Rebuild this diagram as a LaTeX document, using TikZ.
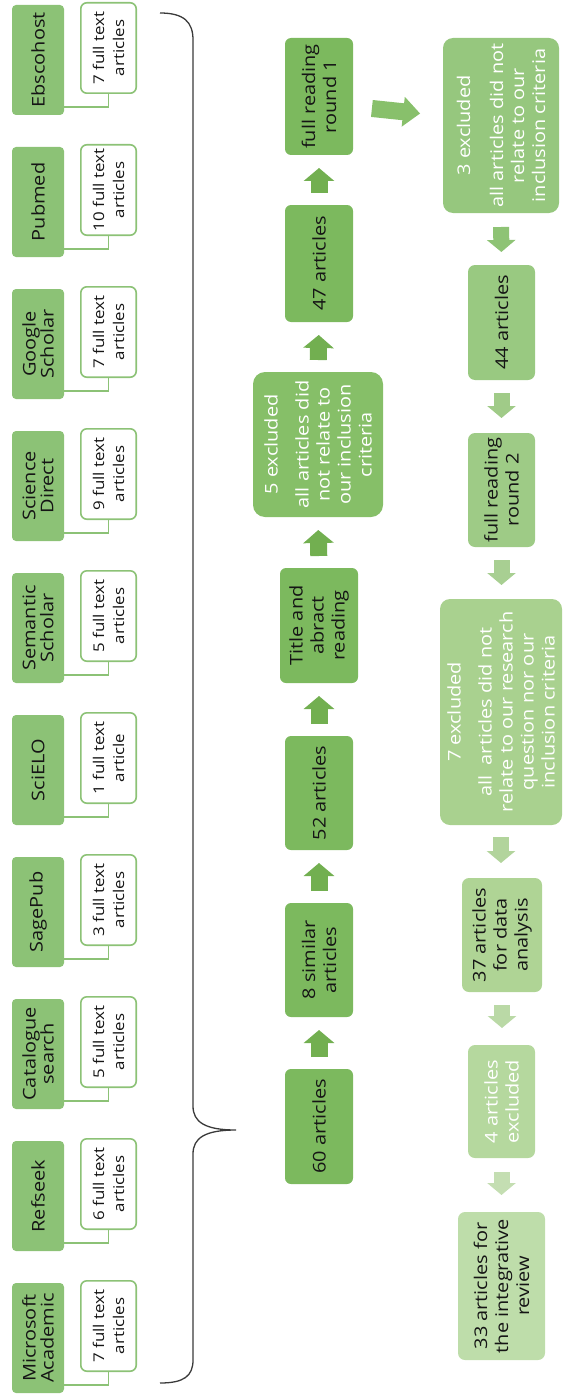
\documentclass[tikz,border=0pt]{standalone}
\usepackage{fontspec}
\setmainfont[FakeStretch=1.14]{Open Sans}
\usetikzlibrary{arrows.meta}
\definecolor{srcg}{HTML}{8CC276}
\definecolor{mg}{HTML}{7CB95E}
\definecolor{mgb}{HTML}{86BF68}
\definecolor{marr}{HTML}{72AF50}
\definecolor{rgA}{HTML}{96C77E}
\definecolor{rgB}{HTML}{99C981}
\definecolor{rgC}{HTML}{9ECB86}
\definecolor{rgD}{HTML}{A9D18F}
\definecolor{rgE}{HTML}{AFD495}
\definecolor{rgF}{HTML}{B5D89E}
\definecolor{rgG}{HTML}{BEDDAA}
\definecolor{raA}{HTML}{88C06B}
\definecolor{raB}{HTML}{8EC375}
\definecolor{raC}{HTML}{A0CB88}
\definecolor{raD}{HTML}{A8CF92}
\definecolor{raE}{HTML}{B2D49C}
\definecolor{raF}{HTML}{BAD9A6}
\definecolor{raG}{HTML}{C4DEB2}
\definecolor{txt}{HTML}{151515}
\definecolor{bracec}{HTML}{3A3A3A}
\newcommand\fsrc{\fontsize{17.5}{18}\selectfont}
\newcommand\fwt{\fontsize{14.8}{20}\selectfont}
\newcommand\fmid{\fontsize{17.5}{21}\selectfont}
\begin{document}
\begin{tikzpicture}[x=1pt,y=-1pt,
  base/.style={rotate=90, align=center, inner sep=1pt, outer sep=0pt},
  src/.style={base, fill=srcg, rounded corners=4pt, minimum width=110pt, minimum height=52pt, text=txt, font=\fsrc},
  wt/.style={base, draw=srcg, line width=1.6pt, fill=white, rounded corners=6pt, minimum width=90.4pt, minimum height=55.4pt, text=txt, font=\fwt},
  mbox/.style={base, rounded corners=6pt, minimum height=68pt, text=txt, font=\fmid},
  rbox/.style={base, rounded corners=7pt, minimum height=67pt, text=txt, font=\fmid},
  conn/.style={draw=srcg, line width=1.6pt},
  uparr/.style={draw=marr, line width=17pt, -{Triangle[width=30pt 0 0,length=13pt 0 0]}, shorten <=12pt, shorten >=13pt},
  downarr/.style={line width=16pt, -{Triangle[width=28pt 0 0,length=12pt 0 0]}},
  bigarr/.style={draw=raA, line width=17pt, -{Triangle[width=29pt 0 0,length=17pt 0 0]}}
]
\useasboundingbox (0,0) rectangle (562,1399);

% sources
\node[src] (s1) at (38,60) {Ebscohost};
\node[wt] (w1) at (108.5,48) {7 full text\\articles};
\node[src] (s2) at (38,202) {Pubmed};
\node[wt] (w2) at (108.5,190) {10 full text\\articles};
\node[src] (s3) at (38,344) {Google\\Scholar};
\node[wt] (w3) at (108.5,332) {7 full text\\articles};
\node[src] (s4) at (38,486) {Science\\Direct};
\node[wt] (w4) at (108.5,474) {9 full text\\articles};
\node[src] (s5) at (38,628) {Semantic\\Scholar};
\node[wt] (w5) at (108.5,616) {5 full text\\articles};
\node[src] (s6) at (38,770) {SciELO};
\node[wt] (w6) at (108.5,758) {1 full text\\article};
\node[src] (s7) at (38,912) {SagePub};
\node[wt] (w7) at (108.5,900) {3 full text\\articles};
\node[src] (s8) at (38,1054) {Catalogue\\search};
\node[wt] (w8) at (108.5,1042) {5 full text\\articles};
\node[src] (s9) at (38,1196) {Refseek};
\node[wt] (w9) at (108.5,1184) {6 full text\\articles};
\node[src] (s10) at (38,1338) {Microsoft\\Academic};
\node[wt] (w10) at (108.5,1326) {7 full text\\articles};
\foreach \i in {1,...,10} {
  \draw[conn] ([yshift=8pt]s\i.south west) -| (w\i.west);
}

% brace
\draw[bracec, line width=1.3pt]
  (160,13) .. controls (184,13) and (193,22) .. (193,40)
  -- (193,1106) .. controls (193,1122) and (205,1130) .. (236,1130)
  .. controls (205,1130) and (193,1138) .. (193,1154)
  -- (193,1360) .. controls (193,1376) and (184,1383) .. (160,1383);

% middle column
\node[mbox, fill=mg, minimum width=117pt] (frr1) at (319,96.5) {full reading\\round 1};
\node[mbox, fill=mg, minimum width=117pt] (a47) at (319,263.5) {47 articles};
\node[mbox, fill=mgb, minimum width=145pt, minimum height=130pt, rounded corners=12pt, text=white] (ex5) at (318,444.5) {5 excluded\\[10pt]all articles did\\not relate to\\our inclusion\\criteria};
\node[mbox, fill=mg, minimum width=115pt, minimum height=78pt] (title) at (319,625.5) {Title and\\abract\\reading};
\node[mbox, fill=mg, minimum width=114pt] (a52) at (319,793) {52 articles};
\node[mbox, fill=mg, minimum width=114pt] (sim8) at (319,960) {8 similar\\articles};
\node[mbox, fill=mg, minimum width=115pt] (a60) at (319,1126.5) {60 articles};

\draw[uparr] (a60.east) -- (sim8.west);
\draw[uparr] (sim8.east) -- (a52.west);
\draw[uparr] (a52.east) -- (title.west);
\draw[uparr] (title.east) -- (ex5.west);
\draw[uparr] (ex5.east) -- (a47.west);
\draw[uparr] (a47.east) -- (frr1.west);

% right column
\node[rbox, fill=rgA, minimum width=175pt, minimum height=116pt, rounded corners=10pt, text=white] (ex3) at (501,125.5) {3 excluded\\[12pt]all articles did not\\relate to our\\inclusion criteria};
\node[rbox, fill=rgB, minimum width=115pt] (a44) at (501.5,322.5) {44 articles};
\node[rbox, fill=rgC, minimum width=114pt] (frr2) at (501.5,490) {full reading\\round 2};
\node[rbox, fill=rgD, minimum width=226pt, minimum height=122pt, rounded corners=10pt, text=white] (ex7) at (501,712) {7 excluded\\[10pt]all~ articles did not\\relate to our research\\question nor our\\inclusion criteria};
\node[rbox, fill=rgE, minimum width=114pt, minimum height=80pt] (a37) at (502,935) {37 articles\\for data\\analysis};
\node[rbox, fill=rgF, minimum width=113pt, text=white] (a4) at (501.5,1101.5) {4 articles\\excluded};
\node[rbox, fill=rgG, minimum width=148pt, minimum height=87pt] (a33) at (501.5,1286) {33 articles for\\the integrative\\review};

\draw[bigarr, shorten <=19pt, shorten >=23pt] ([yshift=-10pt]frr1.south) -- ([yshift=9.6pt]ex3.north);
\draw[downarr, draw=raB, shorten <=14pt, shorten >=13pt] (ex3.west) -- (a44.east);
\draw[downarr, draw=raC, shorten <=13pt, shorten >=15pt] (a44.west) -- (frr2.east);
\draw[downarr, draw=raD, shorten <=13pt, shorten >=14pt] (frr2.west) -- (ex7.east -| frr2.west);
\draw[downarr, draw=raE, shorten <=12pt, shorten >=15pt] (ex7.west) -- (a37.east -| ex7.west);
\draw[downarr, draw=raF, shorten <=13pt, shorten >=17pt] (a37.west) -- (a4.east -| a37.west);
\draw[downarr, draw=raG, shorten <=14pt, shorten >=17pt] (a4.west) -- (a33.east);
\end{tikzpicture}
\end{document}
